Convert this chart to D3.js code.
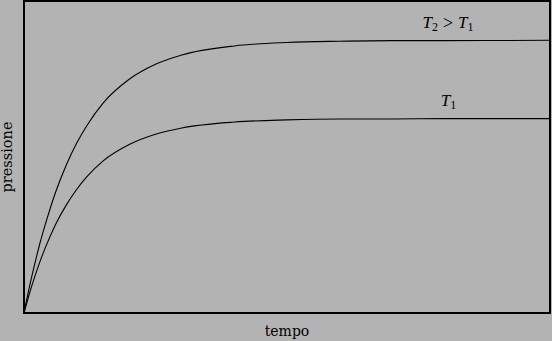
<!DOCTYPE html>
<html>
<head>
<meta charset="utf-8">
<script src="https://cdn.jsdelivr.net/npm/d3@7"></script>
<style>
  html, body { margin: 0; padding: 0; background: #b3b3b3; }
  svg { display: block; }
  text { font-family: "DejaVu Serif", "Liberation Serif", serif; fill: #000; }
  .math { font-family: "Liberation Serif", "DejaVu Serif", serif; }
</style>
</head>
<body>
<div id="chart"></div>
<script>
// times (arbitrary units) and pressures
const tempo = [0, 0.1, 0.2, 0.3, 0.4, 0.6, 0.8, 1.0, 1.2, 1.5, 2, 2.5, 3, 4, 5, 6, 7, 8, 10];
const pressT2 = [0, 0.81, 1.54, 2.22, 2.81, 3.87, 4.73, 5.44, 6.02, 6.72, 7.49, 7.97, 8.27, 8.56, 8.67, 8.71, 8.73, 8.73, 8.74];
const pressT1 = [0, 0.60, 1.14, 1.63, 2.07, 2.84, 3.45, 3.96, 4.38, 4.87, 5.40, 5.73, 5.93, 6.12, 6.19, 6.22, 6.22, 6.23, 6.23];

const w = 552, h = 341;
const m = { top: 1, right: 2, bottom: 28, left: 24 };
const iw = w - m.left - m.right, ih = h - m.top - m.bottom;

const svg = d3.select("#chart").append("svg").attr("width", w).attr("height", h);
const g = svg.append("g").attr("transform", `translate(${m.left},${m.top})`);

const x = d3.scaleLinear().domain([0, 10]).range([0, iw]);
const y = d3.scaleLinear().domain([0, 10]).range([ih, 0]);

const line = d3.line()
  .x((d, i) => x(tempo[i]))
  .y(d => y(d))
  .curve(d3.curveMonotoneX);

[pressT2, pressT1].forEach(s => {
  g.append("path")
    .attr("d", line(s))
    .attr("fill", "none")
    .attr("stroke", "#000")
    .attr("stroke-width", 1.1);
});

// frame
g.append("rect")
  .attr("x", 0).attr("y", 0)
  .attr("width", iw).attr("height", ih)
  .attr("fill", "none")
  .attr("stroke", "#000")
  .attr("stroke-width", 2);

// curve labels, T with subscripts
function mathLabel(px, py, parts) {
  const t = g.append("text").attr("class", "math")
    .attr("x", px).attr("y", py).attr("text-anchor", "middle")
    .style("font-size", "17px");
  parts.forEach(p => {
    const ts = t.append("tspan").text(p.s);
    if (p.it) ts.style("font-style", "italic");
    if (p.sub) ts.attr("dy", 3).style("font-size", "12px");
    if (p.up) ts.attr("dy", -2).style("font-size", "18px");
    if (p.dx) ts.attr("dx", p.dx);
    if (p.dy) ts.attr("dy", p.dy);
  });
}
mathLabel(x(8.06), y(9.12), [
  { s: "T", it: true }, { s: "2", sub: true }, { s: ">", up: true, dx: 5 },
  { s: "T", it: true, dx: 5, dy: -1 }, { s: "1", sub: true }
]);
mathLabel(x(8.07), y(6.65), [{ s: "T", it: true }, { s: "1", sub: true }]);

// axis titles
g.append("text")
  .attr("x", iw / 2).attr("y", ih + 23)
  .attr("text-anchor", "middle")
  .style("font-size", "14px")
  .text("tempo");

g.append("text")
  .attr("transform", "rotate(-90)")
  .attr("x", -(ih / 2)).attr("y", -12.5)
  .attr("text-anchor", "middle")
  .style("font-size", "14.5px")
  .text("pressione");
</script>
</body>
</html>
